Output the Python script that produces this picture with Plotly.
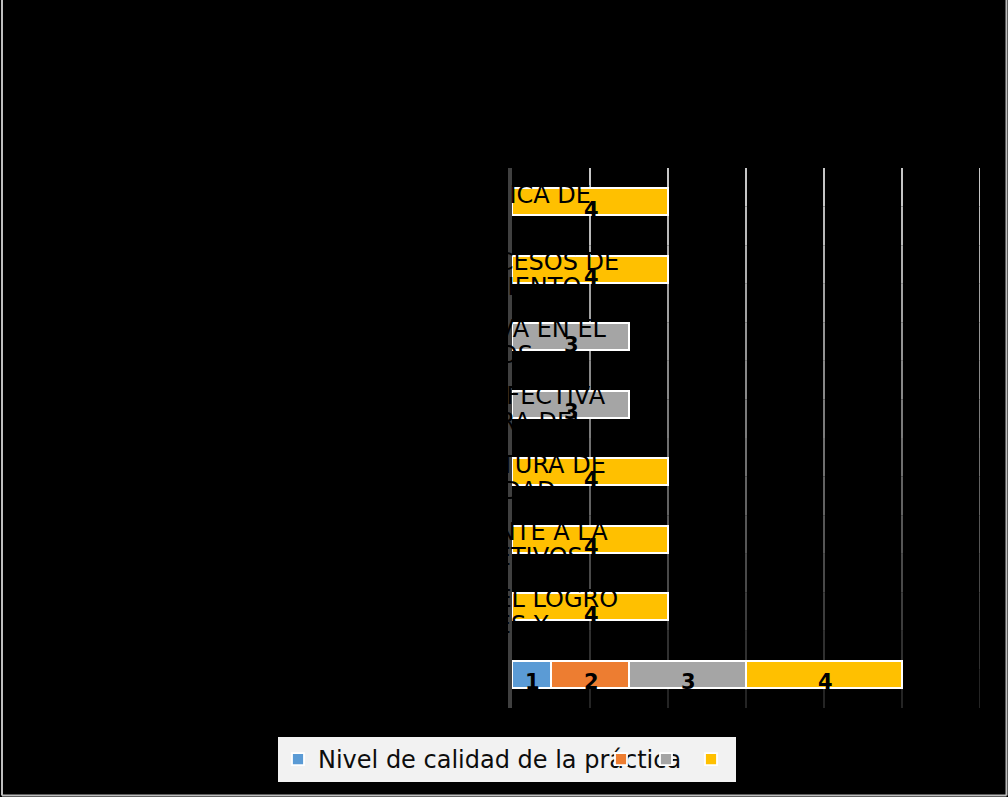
import plotly.graph_objects as go

# ---------------- data ----------------
categories = [
    "CONDUCCIÓN ESTRATÉGICA DE\nLA INSTITUCIÓN",
    "SUPERVISIÓN DE LOS PROCESOS DE\nAPRENDIZAJE Y SEGUIMIENTO",
    "LA COMUNIDAD EDUCATIVA EN EL\nLOGRO DE OBJETIVOS",
    "CONVIVENCIA ESCOLAR EFECTIVA\nENFOCADA EN LA MEJORA DEL",
    "PROMOCIÓN DE UNA CULTURA DE\nEVALUACIÓN DE CALIDAD",
    "GESTIÓN ADECUADA FRENTE A LA\nCUMPLIMIENTO DE OBJETIVOS",
    "MONITOREO CONTINUO DEL LOGRO\nDE LOS APRENDIZAJES Y",
    "NIVELES",
]
series_names = ["Nivel de calidad de la práctica", "", "", ""]
series_colors = ["#5b9bd5", "#ed7d31", "#a5a5a5", "#ffc000"]
s1 = [None, None, None, None, None, None, None, 1]
s2 = [None, None, None, None, None, None, None, 2]
s3 = [None, None, 3, 3, None, None, None, 3]
s4 = [4, 4, None, None, 4, 4, 4, 4]
series_values = [s1, s2, s3, s4]
x_ticks = [0, 2, 4, 6, 8, 10, 12]

# ---------------- layout helpers ----------------
W, H = 1008, 797
ML, MR, MT, MB = 512, 28, 168, 89
PW, PH = W - ML - MR, H - MT - MB


def px_x(p):
    return (p - ML) / PW


def px_y(p):
    return (H - MB - p) / PH


fig = go.Figure()
ypos = list(range(len(categories)))
for k, (name, col, vals) in enumerate(zip(series_names, series_colors, series_values)):
    fig.add_trace(go.Bar(
        y=ypos, x=vals, name=name, orientation="h",
        marker=dict(color=col, line=dict(color="#ffffff", width=1.8)),
        legendwidth=278 if k == 0 else None,
        hoverinfo="skip",
    ))

annotations = []
# data labels
base = [0] * len(categories)
for vals in series_values:
    for i, v in enumerate(vals):
        if v is None:
            continue
        annotations.append(dict(
            x=base[i] + v / 2, y=i, xref="x", yref="y", text=str(v),
            showarrow=False, yshift=-8, xshift=1,
            font=dict(family="DejaVu Sans", size=21, color="#000000", weight="bold"),
        ))
        base[i] += v

# category labels (black, centred, overflowing into the plot)
for i, cat in enumerate(categories[:-1]):
    lines = cat.split("\n")
    shifts = [8, -18]
    for ln, sh in zip(lines, shifts):
        annotations.append(dict(
            x=px_x(401), y=i, xref="paper", yref="y", text=ln,
            xanchor="center", yanchor="middle", showarrow=False, yshift=sh,
            font=dict(family="DejaVu Sans", size=24, color="#000000"),
        ))

shapes = []
# gradient gridlines
N = 14
for t in x_ticks[1:]:
    for s in range(N):
        f = (s + 0.5) / N
        c = int(205 - 175 * f)
        shapes.append(dict(
            type="line", xref="x", yref="paper", x0=t, x1=t,
            y0=1 - s / N, y1=1 - (s + 1) / N, layer="below",
            line=dict(color=f"rgb({c},{c},{c})", width=2),
        ))
# outer frame (left, bottom, right)
bc = "#bfbfbf"
shapes.append(dict(type="line", xref="paper", yref="paper",
                   x0=px_x(2), x1=px_x(2), y0=px_y(0), y1=px_y(795.5), line=dict(color=bc, width=2)))
shapes.append(dict(type="line", xref="paper", yref="paper",
                   x0=px_x(2), x1=px_x(1006.5), y0=px_y(795.5), y1=px_y(795.5), line=dict(color=bc, width=2)))
shapes.append(dict(type="line", xref="paper", yref="paper",
                   x0=px_x(1006.5), x1=px_x(1006.5), y0=px_y(0), y1=px_y(795.5), line=dict(color=bc, width=2)))

fig.update_layout(
    width=W, height=H,
    margin=dict(l=ML, r=MR, t=MT, b=MB, autoexpand=False),
    paper_bgcolor="#000000", plot_bgcolor="#000000",
    barmode="stack", bargap=0.6,
    font=dict(family="DejaVu Sans", color="#000000"),
    xaxis=dict(range=[0, 12], tickvals=x_ticks, showgrid=False, zeroline=False,
               showticklabels=False, showline=False, fixedrange=True),
    yaxis=dict(range=[len(categories) - 0.5, -0.5], showgrid=False, zeroline=False,
               showticklabels=False, showline=True, linecolor="#404040", linewidth=4,
               ticks="", fixedrange=True),
    showlegend=True,
    legend=dict(orientation="h", x=px_x(278), xanchor="left", y=px_y(737), yanchor="top",
                bgcolor="#f2f2f2", borderwidth=0, itemwidth=30, traceorder="normal",
                font=dict(family="DejaVu Sans", size=24, color="#0d0d0d")),
    annotations=annotations,
    shapes=shapes,
)

fig.write_html("out.html")
